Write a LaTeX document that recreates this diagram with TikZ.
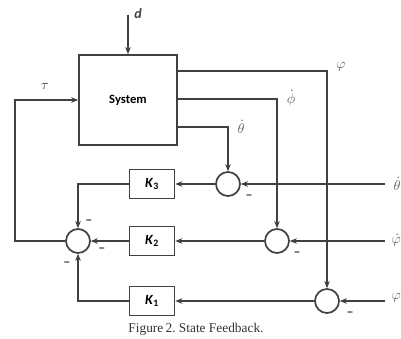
\documentclass[tikz,border=0pt]{standalone}
\usepackage{fontspec}
\setmainfont{Liberation Serif}
\setsansfont{Carlito}
\usepackage{tikz}
\usetikzlibrary{positioning, arrows.meta, calc}
\usepackage{amsmath}
\usepackage{xcolor}
\definecolor{wire}{HTML}{404040}
\definecolor{greek}{HTML}{606060}

\begin{document}
\begin{tikzpicture}[
  x=0.025cm, y=-0.025cm,
  >={Stealth[length=5pt, width=4pt]},
  link/.style={draw=wire, line width=1.2pt},
  block/.style={draw=wire, line width=1.2pt, fill=white, font=\sffamily\bfseries,
                minimum width=1.125cm, minimum height=0.725cm, inner sep=0pt},
  summer/.style={circle, draw=wire, line width=1.2pt, fill=white, minimum size=0.6cm, inner sep=0pt},
  minus/.style={font=\sffamily\bfseries, text=wire, inner sep=0pt},
  sig/.style={font=\normalsize, text=greek, inner sep=0pt}
]
  \useasboundingbox (0,0) rectangle (401,339);

  % Plant
  \node[block, minimum width=2.45cm, minimum height=2.25cm, font=\sffamily\bfseries\small] (sys) at (128,100) {System};
  \coordinate (din) at (128,15);
  \draw[link, ->] (din) -- (sys.north);
  \node[font=\sffamily\bfseries\itshape, text=wire] (dlab) at (138,14) {d};

  % Gains
  \node[block] (k3) at (152,184) {\textit{K}\textsubscript{3}};
  \node[block] (k2) at (152,241) {\textit{K}\textsubscript{2}};
  \node[block] (k1) at (152,301) {\textit{K}\textsubscript{1}};

  % Summing points
  \node[summer] (s0) at (78,241) {};
  \node[summer] (s1) at (228,184) {};
  \node[summer] (s2) at (277,241) {};
  \node[summer] (s3) at (327,301) {};

  % Measured states
  \draw[link, ->] (sys.east |- 0,71) -| (s3.north);
  \draw[link, ->] (sys.east |- 0,99) -| (s2.north);
  \draw[link, ->] (sys.east |- 0,127) -| (s1.north);
  \node[sig] (lphi) at (341,67) {$\varphi$};
  \node[sig] (ldphi) at (291,98) {$\dot{\phi}$};
  \node[sig] (ldth) at (241,127) {$\dot{\theta}$};

  % References
  \coordinate (r1) at (385,184);
  \coordinate (r2) at (385,241);
  \coordinate (r3) at (385,301);
  \draw[link, ->] (r1) -- (s1.east);
  \draw[link, ->] (r2) -- (s2.east);
  \draw[link, ->] (r3) -- (s3.east);
  \node[sig, anchor=east] (ref1) at (401,184) {$\dot{\theta}$};
  \node[sig, anchor=east] (ref2) at (401,240) {$\dot{\varphi}$};
  \node[sig, anchor=east] (ref3) at (401,298) {$\varphi$};

  % Errors into gains
  \draw[link, ->] (s1.west) -- (k3.east);
  \draw[link, ->] (s2.west) -- (k2.east);
  \draw[link, ->] (s3.west) -- (k1.east);

  % Gains into sum
  \draw[link, ->] (k3.west) -| (s0.north);
  \draw[link, ->] (k2.west) -- (s0.east);
  \draw[link, ->] (k1.west) -| (s0.south);

  % Torque back to plant
  \coordinate (lft) at (15,241);
  \draw[link, ->] (s0.west) -- (lft) |- (sys.west);
  \node[sig, text=wire] (ltau) at (45,86) {$\tau$};

  % Signs
  \node[minus] at (89,222) {--};
  \node[minus] at (102,250) {--};
  \node[minus] at (67,264) {--};
  \node[minus] at (249,197) {--};
  \node[minus] at (297,254) {--};
  \node[minus] at (350,314) {--};

  \node[font=\fontsize{9.5}{11}\selectfont, text=black!80] (cap) at (196,329) {Figure\,2.\ State Feedback.};
\end{tikzpicture}
\end{document}
